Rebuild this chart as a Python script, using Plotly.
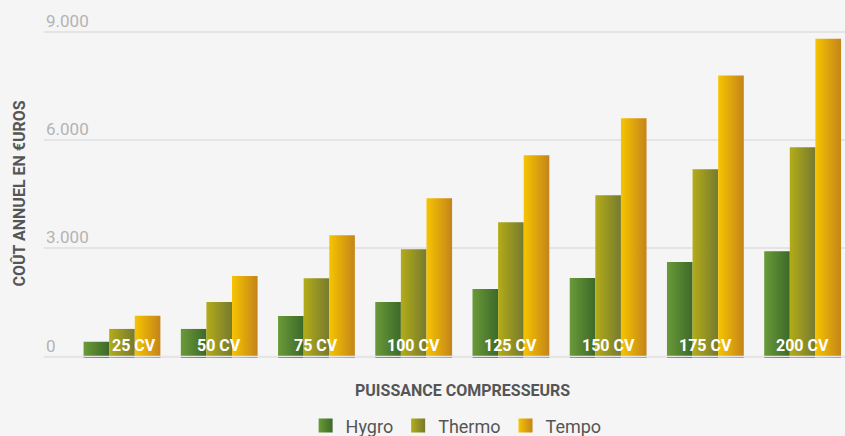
import plotly.graph_objects as go

categories = ["25 CV", "50 CV", "75 CV", "100 CV", "125 CV", "150 CV", "175 CV", "200 CV"]
series_names = ["Hygro", "Thermo", "Tempo"]
hygro = [410, 765, 1125, 1510, 1870, 2175, 2620, 2920]
thermo = [765, 1510, 2172, 2975, 3722, 4470, 5190, 5795]
tempo = [1130, 2230, 3362, 4388, 5573, 6597, 7785, 8805]
y_ticks = [0, 3000, 6000, 9000]
y_tick_labels = ["0", "3.000", "6.000", "9.000"]

series_values = [hygro, thermo, tempo]
grad_left = ["#6a9a38", "#b3ac18", "#f6c400"]
grad_right = ["#3d6929", "#767a2f", "#c4841a"]

BG = "#f5f5f5"
FONT = "Roboto"
GROUP_W = 0.79
BAR_W = GROUP_W / 3

fig = go.Figure()

for s, (name, vals) in enumerate(zip(series_names, series_values)):
    for i, v in enumerate(vals):
        x0 = i - GROUP_W / 2 + s * BAR_W
        x1 = x0 + BAR_W
        fig.add_trace(go.Scatter(
            x=[x0, x1, x1, x0, x0],
            y=[-40, -40, v, v, -40],
            mode="lines",
            line=dict(width=0, color=grad_left[s]),
            fill="toself",
            fillgradient=dict(type="horizontal", start=x0, stop=x1,
                              colorscale=[[0, grad_left[s]], [1, grad_right[s]]]),
            showlegend=False,
            hoverinfo="skip",
        ))
    # legend entry
    fig.add_trace(go.Scatter(
        x=[None], y=[None], mode="markers", name=name,
        marker=dict(symbol="square", size=14, color=grad_left[s],
                    gradient=dict(type="horizontal", color=grad_right[s])),
        showlegend=True,
    ))

annotations = [
    dict(text="COÛT ANNUEL EN €UROS", xref="paper", yref="paper",
         x=-0.0306, y=0.5, xanchor="center", yanchor="middle", textangle=-90,
         showarrow=False, font=dict(family=FONT, size=16, color="#555555", weight="bold")),
    dict(text="PUISSANCE COMPRESSEURS", xref="paper", yref="paper",
         x=0.522, y=-0.0995, xanchor="center", yanchor="middle",
         showarrow=False, font=dict(family=FONT, size=16, color="#555555", weight="bold")),
]
for val, lab in zip(y_ticks, y_tick_labels):
    annotations.append(dict(
        text=lab, xref="paper", yref="y", x=0, y=val,
        xanchor="left", yanchor="bottom", showarrow=False, yshift=-1,
        font=dict(family=FONT, size=17, color="#b3b3b3"),
    ))
# category labels inside the bars (first one nudged right, as in the original)
for i, cat in enumerate(categories):
    annotations.append(dict(
        text=cat, xref="x", yref="y", x=i, y=0,
        xanchor="center", yanchor="bottom", showarrow=False,
        xshift=12 if i == 0 else 0, yshift=0,
        font=dict(family=FONT, size=16, color="white", weight="bold"),
    ))

fig.update_layout(
    width=845, height=436,
    paper_bgcolor=BG, plot_bgcolor=BG,
    margin=dict(l=43.5, r=0, t=27.7, b=77.9, autoexpand=False),
    font=dict(family=FONT, color="#555555"),
    showlegend=True,
    legend=dict(orientation="h", x=0.5145, xanchor="center", y=-0.2054, yanchor="middle",
                font=dict(size=18, color="#555555", family=FONT),
                bgcolor="rgba(0,0,0,0)", itemwidth=30),
    xaxis=dict(
        range=[-0.802, 7.436],
        tickvals=list(range(len(categories))), showticklabels=False,
        showgrid=False, zeroline=False, showline=False, ticks="",
        fixedrange=True,
    ),
    yaxis=dict(
        range=[-40, 9100],
        tickvals=y_ticks, showticklabels=False,
        showgrid=True, gridcolor="#e4e4e4", gridwidth=1.5,
        zeroline=False, showline=False, ticks="",
    ),
    shapes=[dict(type="line", xref="paper", x0=0, x1=1, yref="y", y0=0, y1=0,
                 line=dict(color="#e6e6e6", width=1.5), layer="above")],
    annotations=annotations,
)

fig.write_html("out.html", config={"displayModeBar": False},
               post_script="document.body.style.margin='0';document.body.style.overflow='hidden';")
